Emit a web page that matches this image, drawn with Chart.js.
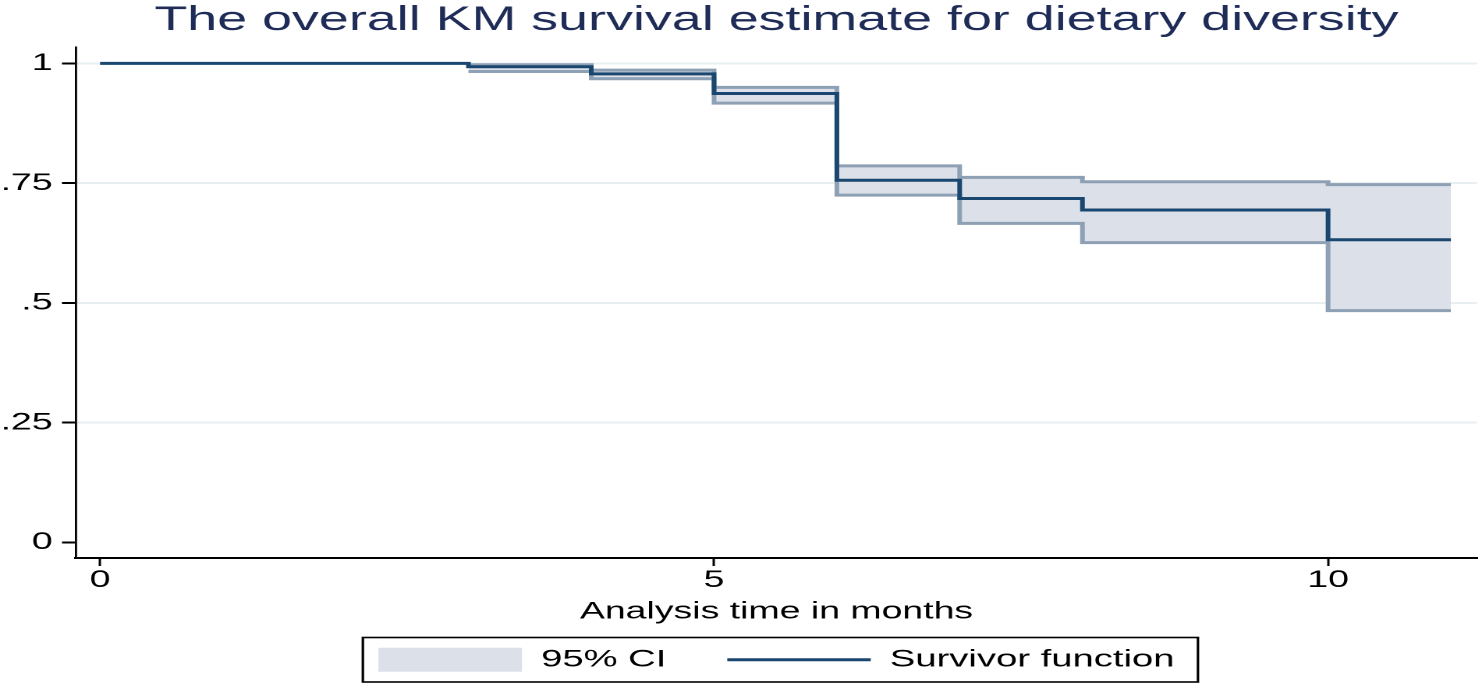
<!DOCTYPE html>
<html>
<head>
<meta charset="utf-8">
<script src="https://cdn.jsdelivr.net/npm/chart.js@4/dist/chart.umd.min.js"></script>
<style>
    html, body { margin: 0; padding: 0; background: #fff; }
    #wrap { width: 1479px; height: 683px; overflow: hidden; }
    /* the reference is a Stata graph stretched sideways, so the canvas is too */
    #chart { transform: scaleX(1.56); transform-origin: 0 0; }
</style>
</head>
<body>
<div id="wrap"><canvas id="chart" width="948" height="683"></canvas></div>
<script>
"use strict"

// KM estimate
const times = [0, 3, 4, 5, 6, 7, 8, 10, 11];
const survival = [1, 0.993, 0.978, 0.937, 0.756, 0.718, 0.694, 0.632, 0.632];

// 95% CI band (starts at the first event)
const ciTimes = [3, 4, 5, 6, 7, 8, 10, 11];
const ciUpper = [0.997, 0.986, 0.950, 0.786, 0.762, 0.753, 0.747, 0.747];
const ciLower = [0.983, 0.968, 0.917, 0.725, 0.666, 0.626, 0.484, 0.484];

// axis ticks
const xTickValues = [0, 5, 10];
const yTickValues = [0, 0.25, 0.5, 0.75, 1];
const yTickLabels = ["0", ".25", ".5", ".75", "1"];

const legendLabels = ["95% CI", "Survivor function"];

// colours
const navy = "#1a476f";
const ciFill = "#dce1e9";
const ciLine = "#8ea0b4";
const gridColor = "#e8eff1";
const font = "'Liberation Sans', Arial, sans-serif";


function toPoints(xs, ys) {
    return xs.map((x, i) => ({ x: x, y: ys[i] }));
}


// frame drawn round the legend items
const legendFrame = {
    id: "legendFrame",
    afterDraw(chart) {
        const boxes = chart.legend.legendHitBoxes;
        if (!boxes || !boxes.length) {
            return;
        }
        const left = Math.min(...boxes.map(b => b.left)) - 10;
        const right = Math.max(...boxes.map(b => b.left + b.width)) + 15;
        const top = boxes[0].top - 10;
        const bottom = boxes[0].top + boxes[0].height + 10;
        const ctx = chart.ctx;
        ctx.save();
        ctx.strokeStyle = "#000";
        ctx.lineWidth = 1.6;
        ctx.strokeRect(left, top, right - left, bottom - top);
        ctx.restore();
    }
};


let data = {
    datasets: [{
        label: "Survivor function",
        data: toPoints(times, survival),
        borderColor: navy,
        borderWidth: 3,
        stepped: true,
        pointRadius: 0,
        fill: false,
        order: 0
    }, {
        label: "upper",
        data: toPoints(ciTimes, ciUpper),
        borderColor: ciLine,
        borderWidth: 3,
        backgroundColor: ciFill,
        stepped: true,
        pointRadius: 0,
        fill: "+1",
        order: 2
    }, {
        label: "lower",
        data: toPoints(ciTimes, ciLower),
        borderColor: ciLine,
        borderWidth: 3,
        stepped: true,
        pointRadius: 0,
        fill: false,
        order: 1
    }]
};

let config = {
    type: "line",
    data: data,
    plugins: [legendFrame],
    options: {
        responsive: false,
        animation: false,
        devicePixelRatio: 2,
        events: [],
        layout: { padding: { left: 0, right: 1.2, top: 0, bottom: 1 } },
        scales: {
            x: {
                type: "linear",
                min: -0.196,
                max: 11.213,
                afterBuildTicks: s => { s.ticks = xTickValues.map(v => ({ value: v })); },
                afterFit: s => { s.height = 50.5; },
                ticks: {
                    autoSkip: false,
                    maxRotation: 0,
                    padding: 0,
                    color: "#000",
                    font: { family: font, size: 24 }
                },
                grid: {
                    drawOnChartArea: false,
                    tickLength: 8,
                    tickColor: "#000",
                    tickWidth: 1.5
                },
                border: { color: "#000", width: 2 },
                title: {
                    display: true,
                    text: "Analysis time in months",
                    color: "#000",
                    font: { family: font, size: 24 },
                    padding: { top: 0, bottom: -18 }
                }
            },
            y: {
                min: -0.0323,
                max: 1.0333,
                afterBuildTicks: s => { s.ticks = yTickValues.map(v => ({ value: v })); },
                afterFit: s => { s.width = 48.7; },
                ticks: {
                    padding: 6,
                    color: "#000",
                    font: { family: font, size: 24 },
                    callback: v => yTickLabels[yTickValues.indexOf(v)]
                },
                grid: {
                    color: c => (c.tick && c.tick.value === 0) ? "rgba(0,0,0,0)" : gridColor,
                    lineWidth: 2,
                    tickLength: 9,
                    tickColor: "#000",
                    tickWidth: 2
                },
                border: { color: "#000", width: 1.4 }
            }
        },
        plugins: {
            title: {
                display: true,
                fullSize: false,
                text: "The overall KM survival estimate for dietary diversity",
                color: "#1e2c57",
                font: { family: font, size: 34.5, weight: "normal" },
                padding: { top: 0, bottom: 6 }
            },
            legend: {
                position: "bottom",
                fullSize: false,
                onClick: null,
                labels: {
                    usePointStyle: true,
                    pointStyleWidth: 92,
                    boxHeight: 24,
                    padding: 39,
                    color: "#000",
                    font: { family: font, size: 24.5 },
                    generateLabels: () => [{
                        text: legendLabels[0],
                        pointStyle: "rect",
                        fillStyle: ciFill,
                        strokeStyle: ciFill,
                        lineWidth: 0,
                        fontColor: "#000"
                    }, {
                        text: legendLabels[1],
                        pointStyle: "line",
                        fillStyle: navy,
                        strokeStyle: navy,
                        lineWidth: 3,
                        fontColor: "#000"
                    }]
                }
            },
            tooltip: { enabled: false }
        }
    }
};

let ctx = document.querySelector("#chart");
let kmChart = new Chart(ctx, config);
</script>
</body>
</html>
